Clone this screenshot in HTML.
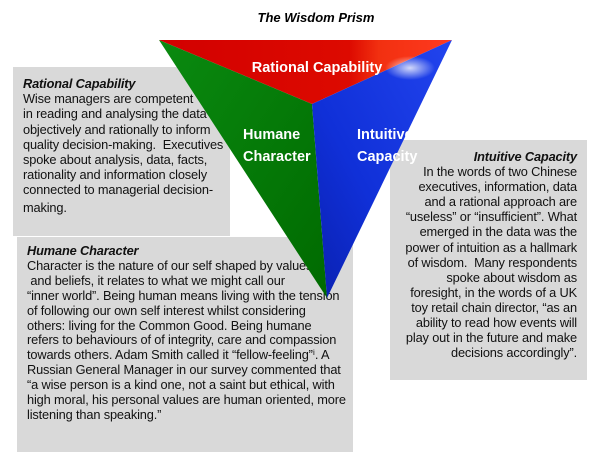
<!DOCTYPE html>
<html><head><style>
body{margin:0;width:600px;height:456px;background:#fff;position:relative;overflow:hidden;font-family:"Liberation Sans",sans-serif;}
.box{position:absolute;background:#d9d9d9;}
.t{position:absolute;font-size:12.8px;line-height:15.2px;color:#111;white-space:nowrap;letter-spacing:-0.15px;}
.t b{font-style:italic;}
svg{position:absolute;left:0;top:0;}
</style></head><body>
<div class="box" style="left:13px;top:67px;width:217px;height:169px"></div>
<div class="box" style="left:17px;top:237px;width:336px;height:215px"></div>
<div class="box" style="left:390px;top:140px;width:197px;height:240px"></div>
<div style="position:absolute;width:600px;top:10px;text-align:center;font-size:13px;font-weight:bold;font-style:italic;left:16px">The Wisdom Prism</div>
<div class="t" style="left:23px;top:76px"><b>Rational Capability</b><br>Wise managers are competent<br>in reading and analysing the data<br>objectively and rationally to inform<br>quality decision-making.&nbsp; Executives<br>spoke about analysis, data, facts,<br>rationality and information closely<br>connected to managerial decision-<br><span style="line-height:20px">making.</span></div>
<div class="t" style="left:27px;top:244px;line-height:14.9px"><b>Humane Character</b><br>Character is the nature of our self shaped by values<br>&nbsp;and beliefs, it relates to what we might call our<br>“inner world”. Being human means living with the tension<br>of following our own self interest whilst considering<br>others: living for the Common Good. Being humane<br>refers to behaviours of of integrity, care and compassion<br>towards others. Adam Smith called it “fellow-feeling”ⁱ. A<br>Russian General Manager in our survey commented that<br>“a wise person is a kind one, not a saint but ethical, with<br>high moral, his personal values are human oriented, more<br>listening than speaking.”</div>
<div class="t" style="right:23px;top:149px;text-align:right;line-height:15.1px"><b>Intuitive Capacity</b><br>In the words of two Chinese<br>executives, information, data<br>and a rational approach are<br>“useless” or “insufficient”. What<br>emerged in the data was the<br>power of intuition as a hallmark<br>of wisdom.&nbsp; Many respondents<br>spoke about wisdom as<br>foresight, in the words of a UK<br>toy retail chain director, “as an<br>ability to read how events will<br>play out in the future and make<br>decisions accordingly”.</div>
<svg width="600" height="456">
<defs>
<linearGradient id="r" x1="0" y1="0" x2="1" y2="0"><stop offset="0" stop-color="#d20000"/><stop offset="0.65" stop-color="#dd0a00"/><stop offset="0.75" stop-color="#f23010"/><stop offset="1" stop-color="#ff3a20"/></linearGradient>
<linearGradient id="g" x1="0" y1="0" x2="1" y2="1"><stop offset="0" stop-color="#0a8a10"/><stop offset="1" stop-color="#006a00"/></linearGradient>
<linearGradient id="bl" x1="1" y1="0" x2="0" y2="1"><stop offset="0" stop-color="#2244ee"/><stop offset="0.6" stop-color="#1030d8"/><stop offset="1" stop-color="#0a20b0"/></linearGradient>
<radialGradient id="hl" cx="0.5" cy="0.5" r="0.5"><stop offset="0" stop-color="#fff" stop-opacity="0.8"/><stop offset="1" stop-color="#fff" stop-opacity="0"/></radialGradient>
</defs>
<polygon points="159,40 452,40 312,104" fill="url(#r)"/>
<polygon points="159,40 312,104 327,298" fill="url(#g)"/>
<polygon points="452,40 312,104 327,298" fill="url(#bl)"/>
<ellipse cx="410" cy="68" rx="25" ry="12" fill="url(#hl)"/>
<g fill="#fff" font-weight="bold" font-size="14.5" font-family="Liberation Sans,sans-serif">
<text x="317" y="72" text-anchor="middle">Rational Capability</text>
<text x="243" y="139">Humane</text><text x="243" y="161">Character</text>
<text x="357" y="139">Intuitive</text><text x="357" y="161">Capacity</text>
</g>
</svg>
</body></html>
